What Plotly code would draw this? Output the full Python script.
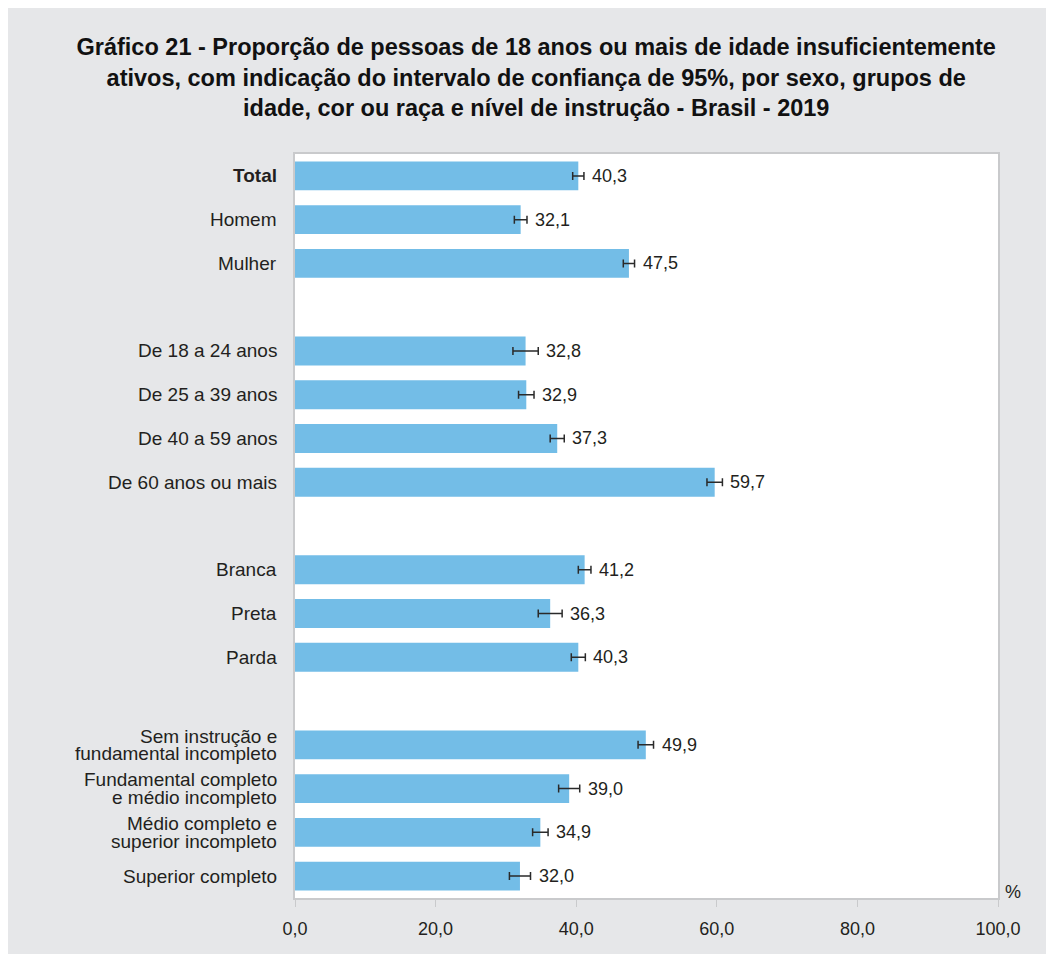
import plotly.graph_objects as go

# categories (blank strings are the spacer rows between groups)
categories = [
    "<b>Total</b>", "Homem", "Mulher", " ",
    "De 18 a 24 anos", "De 25 a 39 anos", "De 40 a 59 anos", "De 60 anos ou mais", "  ",
    "Branca", "Preta", "Parda", "   ",
    "Sem instrução e<br>fundamental incompleto",
    "Fundamental completo<br>e médio incompleto",
    "Médio completo e<br>superior incompleto",
    "Superior completo",
]
values = [40.3, 32.1, 47.5, None,
          32.8, 32.9, 37.3, 59.7, None,
          41.2, 36.3, 40.3, None,
          49.9, 39.0, 34.9, 32.0]
# 95% confidence interval bounds
ci_low = [39.5, 31.2, 46.7, None,
          31.0, 31.8, 36.3, 58.6, None,
          40.3, 34.6, 39.3, None,
          48.8, 37.5, 33.8, 30.5]
ci_high = [41.1, 33.0, 48.3, None,
           34.6, 34.0, 38.3, 60.8, None,
           42.1, 38.0, 41.3, None,
           51.0, 40.5, 36.0, 33.5]
x_ticks = [0, 20, 40, 60, 80, 100]

_BG = "#e6e7e9"
_BAR = "#73bde7"
_TXT = "#231f20"
_LINE = "#c9cacc"
_FONT = "Liberation Sans, Arial, sans-serif"

W, H = 1046, 946

err_plus = [None if v is None else hi - v for v, hi in zip(values, ci_high)]
err_minus = [None if v is None else v - lo for v, lo in zip(values, ci_low)]

fig = go.Figure(go.Bar(
    x=values, y=categories, orientation="h",
    marker=dict(color=_BAR, line=dict(width=0)),
    error_x=dict(type="data", symmetric=False,
                 array=err_plus, arrayminus=err_minus,
                 color="#2a2a2a", thickness=1.5, width=4),
    hoverinfo="x+y",
))

# value labels to the right of the error bars
for cat, v, hi in zip(categories, values, ci_high):
    if v is None:
        continue
    fig.add_annotation(
        x=hi, y=cat, xref="x", yref="y",
        text=f"{v:.1f}".replace(".", ","),
        showarrow=False, xanchor="left", yanchor="middle", xshift=6,
        font=dict(family=_FONT, size=18, color=_TXT),
    )

# category labels, drawn line by line to keep the tight leading
for cat in categories:
    if not cat.strip():
        continue
    lines = cat.split("<br>")
    n = len(lines)
    for i, line in enumerate(lines):
        fig.add_annotation(
            x=0, y=cat, xref="paper", yref="y", text=line,
            showarrow=False, xanchor="right", yanchor="middle",
            xshift=-16, yshift=((n - 1) / 2 - i) * 17.5,
            font=dict(family=_FONT, size=19, color=_TXT),
        )

fig.add_annotation(
    x=1, y=0, xref="paper", yref="paper", text="%",
    showarrow=False, xanchor="center", yanchor="middle", xshift=15, yshift=6,
    font=dict(family=_FONT, size=18, color=_TXT),
)

fig.update_layout(
    width=W, height=H,
    title=dict(
        text="Gráfico 21 - Proporção de pessoas de 18 anos ou mais de idade insuficientemente<br>"
             "ativos, com indicação do intervalo de confiança de 95%, por sexo, grupos de<br>"
             "idade, cor ou raça e nível de instrução - Brasil - 2019",
        x=0.505, xanchor="center", y=1 - 47 / H, yanchor="top",
        font=dict(family=_FONT, size=23.5, color="#111111", weight="bold"),
    ),
    separators=",.",
    paper_bgcolor=_BG, plot_bgcolor="white",
    font=dict(family=_FONT, size=18, color=_TXT),
    margin=dict(l=287, r=56, t=146, b=56, pad=0),
    bargap=0.34,
    showlegend=False,
    xaxis=dict(
        range=[0, 100], tickvals=x_ticks, tickformat=".1f",
        showgrid=False, zeroline=False,
        showline=True, linecolor=_LINE, linewidth=2, mirror=True,
        ticks="outside", ticklen=7, tickcolor=_LINE, tickwidth=1,
        ticklabelstandoff=6,
        tickfont=dict(family=_FONT, size=18, color=_TXT),
    ),
    yaxis=dict(
        categoryorder="array", categoryarray=categories,
        autorange="reversed",
        showgrid=False, zeroline=False,
        showline=True, linecolor=_LINE, linewidth=2, mirror=True,
        ticks="", showticklabels=False,
    ),
)

fig.write_html("out.html")
